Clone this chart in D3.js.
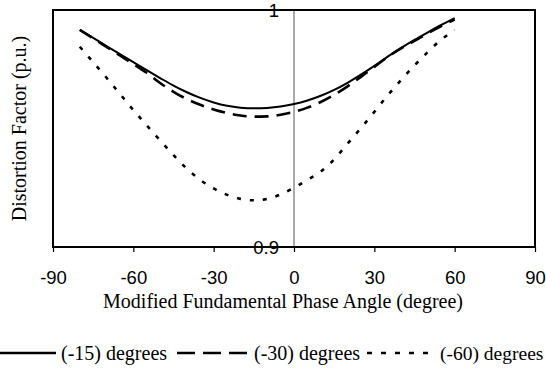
<!DOCTYPE html>
<html>
<head>
<meta charset="utf-8">
<script src="https://cdn.jsdelivr.net/npm/d3@7"></script>
<style>
  body { margin: 0; background: #fff; }
  svg { display: block; }
  .tick-label { font-family: "Liberation Sans", Arial, sans-serif; font-size: 18.5px; }
  .title { font-family: "Liberation Serif", "Times New Roman", serif; font-size: 20px; }
</style>
</head>
<body>
<div id="chart"></div>
<script>
// phase angle in degrees
const angles = [-80, -75, -70, -65, -60, -55, -50, -45, -40, -35, -30, -25, -20, -15, -10,
  -5, 0, 5, 10, 15, 20, 25, 30, 35, 40, 45, 50, 55, 60]

const df15 = [0.9916, 0.9882, 0.9848, 0.9814, 0.9780, 0.9746, 0.9713, 0.9681, 0.9653, 0.9629,
  0.9610, 0.9596, 0.9588, 0.9585, 0.9587, 0.9593, 0.9603, 0.9618, 0.9638, 0.9663,
  0.9693, 0.9727, 0.9764, 0.9803, 0.9840, 0.9874, 0.9906, 0.9937, 0.9966]

const df30 = [0.9916, 0.9880, 0.9844, 0.9808, 0.9772, 0.9735, 0.9692, 0.9655, 0.9624, 0.9600,
  0.9580, 0.9565, 0.9555, 0.9550, 0.9551, 0.9558, 0.9570, 0.9588, 0.9612, 0.9642,
  0.9678, 0.9718, 0.9760, 0.9802, 0.9838, 0.9870, 0.9902, 0.9932, 0.9960]

const df60 = [0.9845, 0.9780, 0.9714, 0.9646, 0.9578, 0.9513, 0.9450, 0.9388, 0.9330, 0.9283,
  0.9247, 0.9220, 0.9203, 0.9197, 0.9203, 0.9222, 0.9250, 0.9283, 0.9318, 0.9370,
  0.9436, 0.9502, 0.9570, 0.9640, 0.9705, 0.9766, 0.9823, 0.9875, 0.9915]

const xTicks = [-90, -60, -30, 0, 30, 60, 90]
const yTicks = [0.9, 1]

const series = [
  { name: '(-15) degrees', values: df15, dash: null },
  { name: '(-30) degrees', values: df30, dash: '14,8' },
  { name: '(-60) degrees', values: df60, dash: '4,9' }
]

const width = 546, height = 373
const plot = { left: 53, right: 535, top: 10, bottom: 247 }

const svg = d3.select('#chart').append('svg')
  .attr('width', width)
  .attr('height', height)

const x = d3.scaleLinear().domain([-90, 90]).range([plot.left, plot.right])
const y = d3.scaleLinear().domain([0.9, 1]).range([plot.bottom, plot.top])

// vertical axis at 0
svg.append('line')
  .attr('x1', x(0)).attr('x2', x(0))
  .attr('y1', plot.top).attr('y2', plot.bottom)
  .attr('stroke', '#555').attr('stroke-width', 1)

const line = d3.line()
  .x((d, i) => x(angles[i]))
  .y(d => y(d))
  .curve(d3.curveMonotoneX)

series.forEach(s => {
  svg.append('path')
    .datum(s.values)
    .attr('d', line)
    .attr('fill', 'none')
    .attr('stroke', '#000')
    .attr('stroke-width', s.dash ? 2.6 : 2)
    .attr('stroke-dasharray', s.dash)
})

// frame
svg.append('rect')
  .attr('x', plot.left).attr('y', plot.top)
  .attr('width', plot.right - plot.left)
  .attr('height', plot.bottom - plot.top)
  .attr('fill', 'none')
  .attr('stroke', '#000')
  .attr('stroke-width', 2)

// x axis ticks
const xAxis = svg.append('g')
  .attr('transform', `translate(0,${plot.bottom})`)
  .call(d3.axisBottom(x).tickValues(xTicks).tickSize(5).tickFormat(d => String(d)))

xAxis.select('.domain').remove()
xAxis.selectAll('.tick line').attr('stroke', '#000').attr('stroke-width', 1.2)
xAxis.selectAll('.tick text')
  .attr('class', 'tick-label')
  .attr('fill', '#000')
  .attr('font-size', null)
  .attr('font-family', null)
  .attr('dy', null)
  .attr('y', 37)

// y labels next to the zero line
svg.selectAll('.ylab')
  .data(yTicks)
  .enter().append('text')
  .attr('class', 'tick-label')
  .attr('x', x(0) - 15)
  .attr('y', d => y(d))
  .attr('dy', '0.36em')
  .attr('text-anchor', 'end')
  .text(d => String(d))

svg.append('text')
  .attr('class', 'title')
  .attr('x', 283)
  .attr('y', 308)
  .attr('text-anchor', 'middle')
  .text('Modified Fundamental Phase Angle (degree)')

svg.append('text')
  .attr('class', 'title')
  .attr('transform', `translate(26,${(plot.top + plot.bottom) / 2}) rotate(-90)`)
  .attr('text-anchor', 'middle')
  .text('Distortion Factor (p.u.)')

// legend
const legendY = 353
const legendItems = [
  { x1: 0, x2: 56, tx: 61 },
  { x1: 177, x2: 248, tx: 254 },
  { x1: 367, x2: 436, tx: 440 }
]

series.forEach((s, i) => {
  const p = legendItems[i]
  svg.append('line')
    .attr('x1', p.x1).attr('x2', p.x2)
    .attr('y1', legendY).attr('y2', legendY)
    .attr('stroke', '#000')
    .attr('stroke-width', 2.4)
    .attr('stroke-dasharray', s.dash ? (i === 1 ? '18,8' : '5,9') : null)
  svg.append('text')
    .attr('class', 'title')
    .attr('x', p.tx)
    .attr('y', legendY + 7)
    .attr('font-size', i === 2 ? '19.5px' : null)
    .style('font-size', i === 2 ? '19.5px' : null)
    .text(s.name)
})
</script>
</body>
</html>
